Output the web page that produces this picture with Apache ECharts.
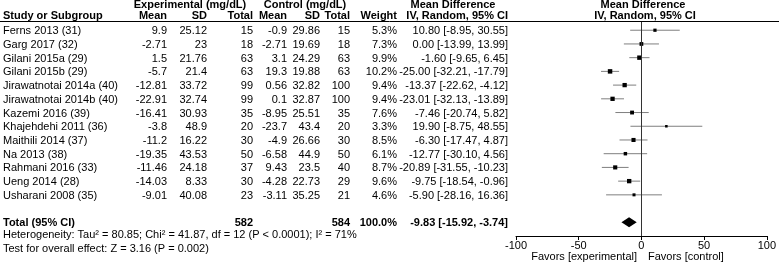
<!DOCTYPE html>
<html>
<head>
<meta charset="utf-8">
<script src="https://cdn.jsdelivr.net/npm/echarts@6/dist/echarts.min.js"></script>
<style>
  html, body { margin: 0; padding: 0; background: #fff; }
  #chart { width: 779px; height: 264px; }
</style>
</head>
<body>
<div id="chart"></div>
<script>
// study rows
const studies = ['Ferns 2013 (31)', 'Garg 2017 (32)', 'Gilani 2015a (29)', 'Gilani 2015b (29)',
  'Jirawatnotai 2014a (40)', 'Jirawatnotai 2014b (40)', 'Kazemi 2016 (39)', 'Khajehdehi 2011 (36)',
  'Maithili 2014 (37)', 'Na 2013 (38)', 'Rahmani 2016 (33)', 'Ueng 2014 (28)', 'Usharani 2008 (35)'];
const expMean = [9.9, -2.71, 1.5, -5.7, -12.81, -22.91, -16.41, -3.8, -11.2, -19.35, -11.46, -14.03, -9.01];
const expSD = [25.12, 23, 21.76, 21.4, 33.72, 32.74, 30.93, 48.9, 16.22, 43.53, 24.18, 8.33, 40.08];
const expTotal = [15, 18, 63, 63, 99, 99, 35, 20, 30, 50, 37, 30, 23];
const ctlMean = [-0.9, -2.71, 3.1, 19.3, 0.56, 0.1, -8.95, -23.7, -4.9, -6.58, 9.43, -4.28, -3.11];
const ctlSD = [29.86, 19.69, 24.29, 19.88, 32.82, 32.87, 25.51, 43.4, 26.66, 44.9, 23.5, 22.73, 35.25];
const ctlTotal = [15, 18, 63, 63, 100, 100, 35, 20, 30, 50, 40, 29, 21];
const weight = [5.3, 7.3, 9.9, 10.2, 9.4, 9.4, 7.6, 3.3, 8.5, 6.1, 8.7, 9.6, 4.6];
const md = [10.80, 0.00, -1.60, -25.00, -13.37, -23.01, -7.46, 19.90, -6.30, -12.77, -20.89, -9.75, -5.90];
const ciLow = [-8.95, -13.99, -9.65, -32.21, -22.62, -32.13, -20.74, -8.75, -17.47, -30.10, -31.55, -18.54, -28.16];
const ciHigh = [30.55, 13.99, 6.45, -17.79, -4.12, -13.89, 5.82, 48.55, 4.87, 4.56, -10.23, -0.96, 16.36];

// pooled result
const totalExp = 582;
const totalCtl = 584;
const totalWeight = 100.0;
const totalMd = -9.83;
const totalLow = -15.92;
const totalHigh = -3.74;
const totalRow = 14;

const xTicks = [-100, -50, 0, 50, 100];

const FONT = '"Liberation Sans", Arial, sans-serif';
const FS = 11;

// right edges of table columns (px)
const colX = { exMean: 167, exSD: 207, exTot: 253, ctMean: 287, ctSD: 320, ctTot: 350, weight: 397, ci: 508 };

function ciText(m, lo, hi) {
  return m.toFixed(2) + ' [' + lo.toFixed(2) + ', ' + hi.toFixed(2) + ']';
}

function txt(text, x, y, align, bold) {
  return {
    type: 'text',
    style: {
      text: text, x: x, y: y, align: align || 'right', verticalAlign: 'middle',
      fill: '#000', fontSize: FS, fontFamily: FONT, fontWeight: bold ? 'bold' : 'normal'
    }
  };
}

const chart = echarts.init(document.getElementById('chart'));

const rowData = studies.map((s, i) => [md[i], i]);

const option = {
  animation: false,
  grid: { left: 516, right: 10, top: 22, bottom: 28 },
  xAxis: {
    type: 'value', min: -100, max: 100, interval: 50,
    splitLine: { show: false },
    axisLine: { show: true, onZero: false, lineStyle: { color: '#000', width: 1 } },
    axisTick: { show: true, length: 4, lineStyle: { color: '#000' } },
    axisLabel: { color: '#000', fontSize: FS, fontFamily: FONT, margin: 4, customValues: xTicks }
  },
  yAxis: { type: 'value', inverse: true, min: -0.6, max: 15, show: false },
  graphic: [
    { type: 'line', shape: { x1: 0, y1: 21.5, x2: 779, y2: 21.5 }, style: { stroke: '#000', lineWidth: 1 } },
    {
      type: 'group', children: [
        txt('Experimental (mg/dL)', 190, 5, 'center', true),
        txt('Control (mg/dL)', 305, 5, 'center', true),
        txt('Mean Difference', 453, 5, 'center', true),
        txt('Mean Difference', 643, 5, 'center', true),
        txt('Study or Subgroup', 3, 16, 'left', true),
        txt('Mean', colX.exMean, 16, 'right', true),
        txt('SD', colX.exSD, 16, 'right', true),
        txt('Total', colX.exTot, 16, 'right', true),
        txt('Mean', colX.ctMean, 16, 'right', true),
        txt('SD', colX.ctSD, 16, 'right', true),
        txt('Total', colX.ctTot, 16, 'right', true),
        txt('Weight', colX.weight, 16, 'right', true),
        txt('IV, Random, 95% CI', colX.ci, 16, 'right', true),
        txt('IV, Random, 95% CI', 645, 16, 'center', true),
        txt('Heterogeneity: Tau\u00b2 = 80.85; Chi\u00b2 = 41.87, df = 12 (P < 0.0001); I\u00b2 = 71%', 3, 235, 'left', false),
        txt('Test for overall effect: Z = 3.16 (P = 0.002)', 3, 249, 'left', false),
        txt('Favors [experimental]', 637, 257, 'right', false),
        txt('Favors [control]', 648, 257, 'left', false)
      ]
    }
  ],
  series: [
    {
      // table text for each study
      type: 'custom',
      clip: false,
      silent: true,
      data: rowData,
      renderItem: function (params, api) {
        const i = params.dataIndex;
        const y = api.coord([0, api.value(1)])[1] + 1;
        return {
          type: 'group',
          children: [
            txt(studies[i], 3, y, 'left'),
            txt(String(expMean[i]), colX.exMean, y),
            txt(String(expSD[i]), colX.exSD, y),
            txt(String(expTotal[i]), colX.exTot, y),
            txt(String(ctlMean[i]), colX.ctMean, y),
            txt(String(ctlSD[i]), colX.ctSD, y),
            txt(String(ctlTotal[i]), colX.ctTot, y),
            txt(weight[i].toFixed(1) + '%', colX.weight, y),
            txt(ciText(md[i], ciLow[i], ciHigh[i]), colX.ci, y)
          ]
        };
      }
    },
    {
      // total row text
      type: 'custom',
      clip: false,
      silent: true,
      data: [[totalMd, totalRow]],
      renderItem: function (params, api) {
        const y = api.coord([0, api.value(1)])[1] + 1;
        return {
          type: 'group',
          children: [
            txt('Total (95% CI)', 3, y, 'left', true),
            txt(String(totalExp), colX.exTot, y, 'right', true),
            txt(String(totalCtl), colX.ctTot, y, 'right', true),
            txt(totalWeight.toFixed(1) + '%', colX.weight, y, 'right', true),
            txt(ciText(totalMd, totalLow, totalHigh), colX.ci, y, 'right', true)
          ]
        };
      }
    },
    {
      // CI whiskers and weighted squares
      type: 'custom',
      clip: false,
      data: rowData,
      renderItem: function (params, api) {
        const i = params.dataIndex;
        const row = api.value(1);
        const p0 = api.coord([ciLow[i], row]);
        const p1 = api.coord([ciHigh[i], row]);
        const pc = api.coord([md[i], row]);
        const s = 1.4 * Math.sqrt(weight[i]);
        return {
          type: 'group',
          children: [
            { type: 'line', shape: { x1: p0[0], y1: p0[1], x2: p1[0], y2: p1[1] }, style: { stroke: '#7f7f7f', lineWidth: 1 } },
            { type: 'rect', shape: { x: pc[0] - s / 2, y: pc[1] - s / 2, width: s, height: s }, style: { fill: '#000' } }
          ]
        };
      },
      markLine: {
        silent: true,
        symbol: 'none',
        label: { show: false },
        lineStyle: { color: '#333', type: 'solid', width: 1 },
        data: [{ xAxis: 0 }]
      }
    },
    {
      // pooled diamond
      type: 'custom',
      clip: false,
      data: [[totalMd, totalRow]],
      renderItem: function (params, api) {
        const row = api.value(1);
        const l = api.coord([totalLow, row]);
        const r = api.coord([totalHigh, row]);
        const c = api.coord([api.value(0), row]);
        const h = 5;
        return {
          type: 'polygon',
          shape: { points: [[l[0], l[1]], [c[0], c[1] - h], [r[0], r[1]], [c[0], c[1] + h]] },
          style: { fill: '#000' }
        };
      }
    }
  ]
};

chart.setOption(option);
</script>
</body>
</html>
